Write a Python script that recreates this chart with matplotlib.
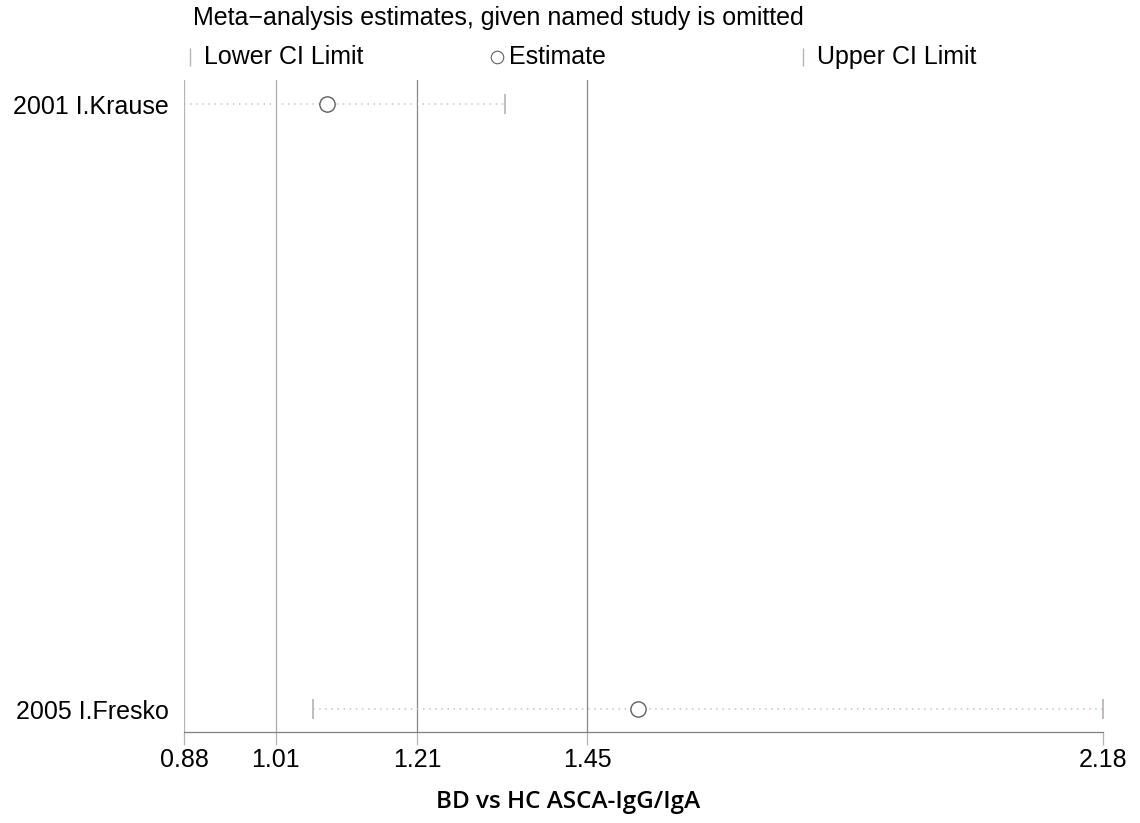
import matplotlib.pyplot as plt
from matplotlib.lines import Line2D

plt.rcParams['font.family'] = ['Liberation Sans', 'DejaVu Sans']

studies = ['2001 I.Krause', '2005 I.Fresko']
lower = [0.88, 1.062]
estimate = [1.082, 1.522]
upper = [1.334, 2.18]
ref_lines = [0.88, 1.01, 1.21, 1.45]
ref_colors = ['#b8b2b2', '#b0aaaa', '#8a8585', '#8a8585']
xticks = [0.88, 1.01, 1.21, 1.45, 2.18]
xlabels = ['0.88', '1.01', '1.21', '1.45', '2.18']

fig = plt.figure(figsize=(11.4, 8.23), dpi=100)
ax = fig.add_axes([184 / 1140, 1 - 732 / 823, 919 / 1140, 652 / 823])

rows = list(range(1, len(studies) + 1))

for x, c in zip(ref_lines, ref_colors):
    ax.axvline(x, color=c, lw=0.9, zorder=1)

for y, lo, est, hi in zip(rows, lower, estimate, upper):
    ax.plot([lo, hi], [y, y], color='#c4c4c4', lw=1.1, ls=(0, (1, 3)), zorder=2)
    ax.plot([lo, hi], [y, y], ls='none', marker='|', markersize=14,
            markeredgewidth=1.2, color='#b8b2b2', zorder=3)
    ax.plot(est, y, marker='o', markersize=11, markerfacecolor='white',
            markeredgecolor='#606060', markeredgewidth=1, zorder=4)

ax.set_xlim(0.88, 2.18)
ax.set_ylim(2.038, 0.96)
ax.set_yticks(rows)
ax.set_yticklabels(studies, fontsize=18)
ax.tick_params(axis='y', length=0, pad=11)
ax.set_xticks(xticks)
ax.set_xticklabels(xlabels, fontsize=18)
ax.tick_params(axis='x', length=9.5, width=0.9, color='#b8b2b2', pad=2)
for s in ['left', 'right', 'top']:
    ax.spines[s].set_visible(False)
ax.spines['bottom'].set_color('#808080')
ax.spines['bottom'].set_linewidth(0.9)

# legend block at top
fig.text(193 / 1140, 1 - 18 / 823, 'Meta\u2212analysis estimates, given named study is omitted',
         fontsize=18, va='center', ha='left')
ly = 1 - 57 / 823
fig.add_artist(Line2D([190 / 1140], [ly], marker='|', markersize=13, markeredgewidth=1,
                      color='#b8b2b2', ls='none'))
fig.text(204 / 1140, ly, 'Lower CI Limit', fontsize=18, va='center', ha='left')
fig.add_artist(Line2D([497 / 1140], [ly], marker='o', markersize=9, markerfacecolor='white',
                      markeredgecolor='#606060', markeredgewidth=0.8, ls='none'))
fig.text(509 / 1140, ly, 'Estimate', fontsize=18, va='center', ha='left')
fig.add_artist(Line2D([803 / 1140], [ly], marker='|', markersize=13, markeredgewidth=1,
                      color='#b8b2b2', ls='none'))
fig.text(817 / 1140, ly, 'Upper CI Limit', fontsize=18, va='center', ha='left')

fig.text(568 / 1140, 1 - 802 / 823, 'BD vs HC ASCA-IgG/IgA', fontsize=17.5,
         family=['Open Sans', 'DejaVu Sans'], fontweight='semibold', ha='center', va='center')

fig.savefig('out.png', dpi=100, facecolor='white')
